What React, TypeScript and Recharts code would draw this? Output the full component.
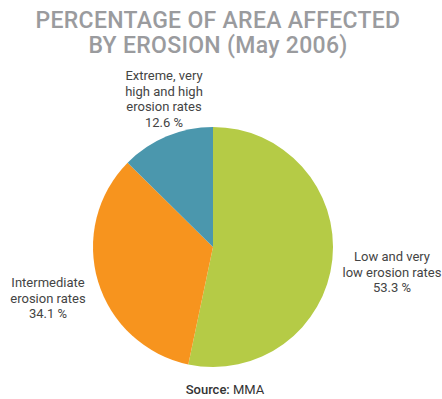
import React from 'react'
import { PieChart, Pie, Cell } from 'recharts'

const categories = ['Low and very low erosion rates', 'Intermediate erosion rates', 'Extreme, very high and high erosion rates']
const shares = [53.3, 34.1, 12.6]
const labelLines = [
  ['Low and very', 'low erosion rates'],
  ['Intermediate', 'erosion rates'],
  ['Extreme, very', 'high and high', 'erosion rates'],
]
const colors = ['#b5cb46', '#f7941e', '#4b97ad']

const data = categories.map((name, i) => ({ name, value: shares[i] }))

// where each label block sits (centre x, first baseline y)
const labelPos = [
  { x: 392, y: 261 },
  { x: 48, y: 287 },
  { x: 164, y: 80 },
]

const font = 'Roboto, "Open Sans", sans-serif'

export default function App() {
  return (
    <div style={{ position: 'absolute', left: 0, top: 0, width: 442, height: 399, background: '#fff' }}>
      <PieChart width={442} height={399} margin={{ top: 0, right: 0, bottom: 0, left: 0 }}>
        <text x={218} y={28} textAnchor="middle" fill="#9a9b9e" fontFamily={font} fontWeight={500} fontSize={23} letterSpacing={0.3}>
          PERCENTAGE OF AREA AFFECTED
        </text>
        <text x={218} y={53} textAnchor="middle" fill="#9a9b9e" fontFamily={font} fontWeight={500} fontSize={23} letterSpacing={0.3}>
          BY EROSION (May 2006)
        </text>
        <Pie
          data={data}
          dataKey="value"
          nameKey="name"
          cx={213}
          cy={247}
          outerRadius={120}
          startAngle={90}
          endAngle={-270}
          stroke="none"
          isAnimationActive={false}
        >
          {data.map((d, i) => (
            <Cell key={d.name} fill={colors[i]} />
          ))}
        </Pie>
        {data.map((d, i) => {
          const lines = [...labelLines[i], `${shares[i].toFixed(1)} %`]
          return (
            <text key={d.name} x={labelPos[i].x} y={labelPos[i].y} textAnchor="middle" fill="#444" fontFamily={font} fontSize={13}>
              {lines.map((l, j) => (
                <tspan key={j} x={labelPos[i].x} dy={j === 0 ? 0 : 15.5}>{l}</tspan>
              ))}
            </text>
          )
        })}
        <text x={225} y={394} textAnchor="middle" fill="#333" fontFamily={font} fontSize={13}>
          <tspan fontWeight={500}>Source:</tspan> MMA
        </text>
      </PieChart>
    </div>
  )
}
